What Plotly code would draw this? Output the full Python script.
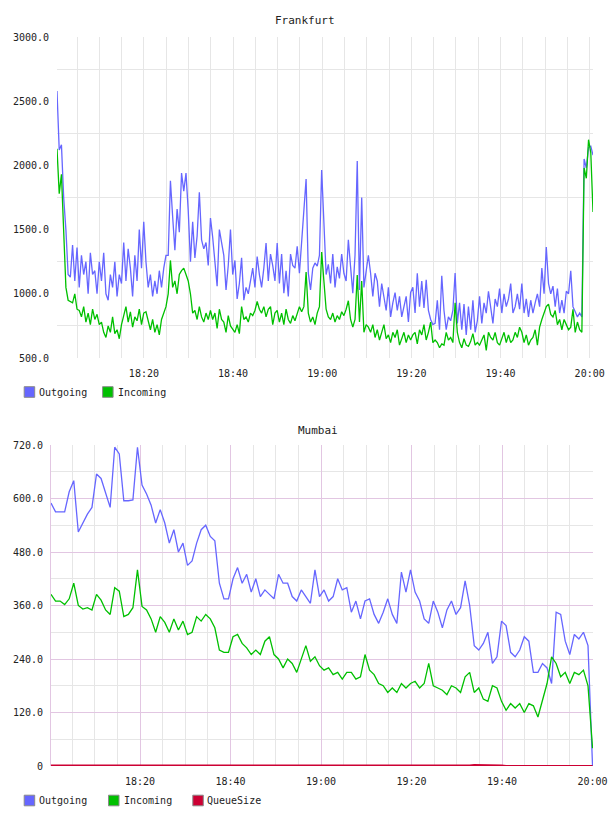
import pandas as pd
import plotly.graph_objects as go

# ---------------- Frankfurt data (30 s samples) ----------------
fra_start = "2024-01-01 18:00:30"
fra_end = "2024-01-01 20:00:45"
fra_out = [
    2580, 2120, 2160, 1750, 1500, 1150, 1130, 1380, 1100, 1360,
    1050, 1300, 1150, 1250, 1000, 1320, 1150, 1180, 1000, 1250,
    1100, 1320, 1000, 950, 1150, 1050, 1250, 980, 1150, 1080,
    1400, 1100, 1350, 1200, 980, 1300, 1100, 1500, 1200, 1560,
    1250, 1050, 1150, 980, 1100, 1000, 1180, 1050, 1200, 1300,
    1300, 1880, 1600, 1340, 1660, 1480, 1940, 1800, 1940, 1650,
    1250, 1560, 1280, 1450, 1790, 1420, 1350, 1400, 1220, 1590,
    1440, 1240, 1060, 1500, 1400, 1300, 1030, 1220, 1500, 1150,
    1260, 960, 1080, 1280, 950, 1050, 1000, 1100, 1200, 1050,
    1290, 1150, 1050, 1200, 1395, 1100, 1310, 1220, 1100, 1395,
    1080, 1310, 1005, 1180, 980, 1310, 1220, 1200, 1370, 1160,
    1395, 1600, 1894, 1160, 1030, 1200, 1240, 1215, 1300, 1964,
    1500, 1150, 1230, 1080, 1310, 1050, 1210, 1120, 1310, 1160,
    1100, 1420, 1210, 1005, 1300, 2034, 1030, 1750, 1050, 1200,
    1300, 1160, 980, 1160, 1100, 900, 1080, 975, 870, 1050,
    820, 930, 1010, 870, 980, 820, 900, 980, 780, 1010,
    1050, 850, 1160, 900, 1100, 890, 1110, 870, 800, 760,
    770, 950, 720, 1140, 870, 720, 820, 790, 870, 1162,
    770, 930, 720, 920, 680, 900, 720, 950, 700, 790,
    980, 770, 930, 850, 1020, 870, 770, 960, 900, 1040,
    850, 1000, 900, 960, 1080, 850, 900, 1000, 880, 1080,
    850, 960, 820, 950, 850, 930, 1000, 900, 1200, 1000,
    1365, 1080, 1000, 1060, 900, 1040, 850, 950, 850, 1020,
    1000, 1180, 900, 860, 820, 850, 820, 2050, 1980, 2140, 2150, 2080,
]
fra_in = [
    2130, 1780, 1930, 1450, 1050, 950, 940, 930, 1000, 880,
    870, 820, 900, 780, 850, 760, 880, 800, 840, 760,
    780, 700, 660, 750, 700, 820, 690, 720, 650, 760,
    830, 900, 780, 860, 740, 820, 790, 880, 760, 850,
    860, 780, 720, 800, 700, 760, 680, 800, 850, 900,
    1000, 1260, 1050, 1100, 1000, 1150, 1180, 1200, 1150, 1100,
    1000, 850, 870, 800, 900, 820, 780, 850, 800, 870,
    800, 850, 730, 880, 800, 780, 700, 830, 750, 720,
    700, 760, 690, 900, 800, 820, 780, 850, 830, 870,
    940, 880, 850, 900, 820, 880, 900, 760, 850, 870,
    780, 850, 760, 880, 800, 770, 830, 790, 850, 900,
    860, 900, 1170, 850, 780, 820, 760, 850, 900, 1325,
    1100, 880, 820, 800, 850, 780, 830, 800, 860, 830,
    880, 946, 800, 740, 800, 1146, 780, 1100, 700, 760,
    740, 700, 760, 660, 720, 640, 700, 760, 650, 680,
    620, 700, 660, 720, 600, 650, 700, 620, 680, 640,
    680, 700, 610, 720, 680, 760, 640, 700, 780, 620,
    640, 620, 580, 610, 600, 700, 640, 660, 620, 930,
    700, 620, 580, 650, 600, 590, 630, 690, 600, 620,
    600, 640, 680, 560, 700, 660, 640, 700, 620, 600,
    650, 700, 620, 680, 620, 640, 700, 660, 740, 700,
    620, 680, 600, 640, 660, 720, 600, 740, 800, 860,
    900, 920, 840, 820, 870, 760, 800, 720, 800, 760,
    720, 740, 880, 700, 780, 720, 700, 1980, 1900, 2200, 2100, 1637,
]
fra_ytick_vals = [500, 1000, 1500, 2000, 2500, 3000]
fra_ytick_text = ["500.0", "1000.0", "1500.0", "2000.0", "2500.0", "3000.0"]
fra_ygrid_vals = [750, 1250, 1750, 2250, 2750]
fra_legend = ["Outgoing", "Incoming"]

# ---------------- Mumbai data (1 min samples) ----------------
mum_start = "2024-01-01 18:00:20"
mum_end = "2024-01-01 20:00:00"
mum_out = [
    590, 570, 570, 570, 615, 640, 525, 545, 565, 580,
    655, 645, 610, 580, 715, 700, 595, 595, 597, 715,
    630, 610, 585, 545, 575, 545, 500, 530, 480, 500,
    450, 460, 500, 530, 540, 515, 505, 410, 375, 375,
    420, 445, 410, 430, 390, 420, 380, 395, 385, 375,
    430, 410, 410, 380, 370, 395, 380, 365, 440, 380,
    395, 370, 380, 420, 395, 400, 345, 370, 330, 370,
    375, 340, 320, 345, 375, 340, 320, 435, 390, 440,
    390, 370, 330, 320, 370, 345, 310, 350, 370, 340,
    355, 415, 360, 270, 260, 275, 300, 230, 245, 325,
    315, 255, 245, 260, 290, 280, 210, 210, 230, 220,
    185, 345, 340, 280, 250, 295, 285, 300, 270, 0,
]
mum_in = [
    385, 370, 370, 362, 375, 410, 360, 352, 355, 350,
    385, 372, 350, 340, 400, 392, 335, 340, 355, 440,
    358, 350, 330, 300, 335, 322, 300, 330, 305, 325,
    295, 300, 335, 325, 340, 330, 310, 260, 255, 255,
    290, 295, 275, 265, 250, 260, 250, 280, 290, 250,
    240, 220, 240, 230, 210, 240, 270, 235, 245, 225,
    215, 220, 205, 210, 195, 210, 210, 195, 200, 250,
    215, 205, 185, 180, 165, 175, 165, 185, 175, 185,
    190, 175, 185, 230, 180, 175, 170, 160, 180, 175,
    165, 200, 210, 165, 175, 150, 145, 180, 175, 145,
    125, 140, 130, 140, 120, 140, 135, 110, 150, 185,
    245, 230, 200, 210, 185, 210, 205, 215, 180, 40,
]
mum_queue = [
    1, 1, 1, 1, 1, 1, 1, 1, 1, 1,
    1, 1, 1, 1, 1, 1, 1, 1, 1, 1,
    1, 1, 1, 1, 1, 0, 0, 0, 0, 0,
    0, 0, 0, 0, 0, 0, 0, 0, 0, 0,
    0, 0, 0, 0, 0, 0, 0, 0, 0, 0,
    0, 0, 0, 0, 0, 0, 0, 0, 0, 0,
    0, 0, 0, 0, 0, 0, 0, 0, 0, 0,
    0, 0, 0, 0, 0, 0, 0, 0, 0, 0,
    0, 0, 0, 0, 0, 0, 0, 0, 0, 0,
    1, 1, 1, 2, 2, 2, 2, 2, 1, 1,
    0, 0, 0, 0, 0, 0, 0, 0, 0, 0,
    0, 0, 0, 0, 0, 0, 0, 0, 0, 0,
]
mum_ytick_vals = [0, 120, 240, 360, 480, 600, 720]
mum_ytick_text = ["0", "120.0", "240.0", "360.0", "480.0", "600.0", "720.0"]
mum_legend = ["Outgoing", "Incoming", "QueueSize"]

# ---------------- styling ----------------
W, H = 608, 816
C_OUT = "#6666ff"
C_IN = "#00c000"
C_Q = "#cc0033"
GRID = "#e6e6e6"
PINK = "#e2c6e2"
MONO = "DejaVu Sans Mono"
TXT = "#222222"

fra_t = pd.date_range(fra_start, fra_end, periods=len(fra_out))
mum_t = pd.date_range(mum_start, mum_end, periods=len(mum_out))

fig = go.Figure()

fig.add_trace(go.Scatter(x=fra_t, y=fra_out, mode="lines", name=fra_legend[0],
                         line=dict(color=C_OUT, width=1.3), xaxis="x", yaxis="y"))
fig.add_trace(go.Scatter(x=fra_t, y=fra_in, mode="lines", name=fra_legend[1],
                         line=dict(color=C_IN, width=1.3), xaxis="x", yaxis="y"))
fig.add_trace(go.Scatter(x=mum_t, y=mum_out, mode="lines", name=mum_legend[0],
                         line=dict(color=C_OUT, width=1.3), xaxis="x2", yaxis="y2"))
fig.add_trace(go.Scatter(x=mum_t, y=mum_in, mode="lines", name=mum_legend[1],
                         line=dict(color=C_IN, width=1.3), xaxis="x2", yaxis="y2"))
fig.add_trace(go.Scatter(x=mum_t, y=mum_queue, mode="lines", name=mum_legend[2],
                         line=dict(color=C_Q, width=2), xaxis="x2", yaxis="y2"))

tickfont = dict(family=MONO, size=10, color=TXT)


def xdom(a, b):
    return [a / W, b / W]


def ydom(top, bottom):
    return [1 - bottom / H, 1 - top / H]


# hand-placed legend rows (swatch square + label), positions in pixels
shapes = []
annotations = []


def legend_row(labels, colors, swatch_x, text_x, yc):
    for lab, col, sx, tx in zip(labels, colors, swatch_x, text_x):
        shapes.append(dict(type="rect", xref="paper", yref="paper",
                           x0=sx / W, x1=(sx + 10.5) / W,
                           y0=1 - (yc + 5.3) / H, y1=1 - (yc - 5.3) / H,
                           fillcolor=col, line=dict(color="#8a8a8a", width=1)))
        annotations.append(dict(text=lab, x=tx / W, y=1 - yc / H, xref="paper", yref="paper",
                                showarrow=False, xanchor="left", yanchor="middle",
                                borderpad=0, font=dict(family=MONO, size=10, color=TXT)))


legend_row(fra_legend, [C_OUT, C_IN], [24.2, 102.6], [37.5, 116.5], 392)
legend_row(mum_legend, [C_OUT, C_IN, C_Q], [24.2, 108.5, 192.8], [37.5, 122.5, 205.5], 800.5)

annotations.append(dict(text="Frankfurt", x=305 / W, y=1 - 20 / H, xref="paper", yref="paper",
                        showarrow=False, xanchor="center", yanchor="middle",
                        font=dict(family=MONO, size=11, color=TXT)))
annotations.append(dict(text="Mumbai", x=318 / W, y=1 - 430 / H, xref="paper", yref="paper",
                        showarrow=False, xanchor="center", yanchor="middle",
                        font=dict(family=MONO, size=11, color=TXT)))

fig.update_layout(
    width=W, height=H,
    margin=dict(l=0, r=0, t=0, b=0, autoexpand=False),
    paper_bgcolor="white", plot_bgcolor="white",
    showlegend=False,
    xaxis=dict(domain=xdom(57, 593), anchor="y", type="date", automargin=False,
               range=[fra_start, fra_end],
               tickformat="%H:%M", tick0="2024-01-01 18:00", dtick=1200000,
               showgrid=True, gridcolor=GRID, gridwidth=1,
               minor=dict(tick0="2024-01-01 18:00", dtick=300000,
                          showgrid=True, gridcolor=GRID, gridwidth=1),
               ticks="outside", ticklen=6, tickcolor="rgba(0,0,0,0)",
               showline=False, zeroline=False, tickfont=tickfont),
    yaxis=dict(domain=ydom(37, 358), anchor="x", range=[500, 3000], automargin=False,
               tickmode="array", tickvals=fra_ytick_vals, ticktext=fra_ytick_text,
               showgrid=False,
               minor=dict(tickmode="array", tickvals=fra_ygrid_vals,
                          showgrid=True, gridcolor=GRID, gridwidth=1),
               ticks="outside", ticklen=5, tickcolor="rgba(0,0,0,0)",
               showline=False, zeroline=False, tickfont=tickfont),
    xaxis2=dict(domain=xdom(51, 593), anchor="y2", type="date", automargin=False,
                range=[mum_start, "2024-01-01 20:00:06"],
                tickformat="%H:%M", tick0="2024-01-01 18:00", dtick=1200000,
                showgrid=True, gridcolor=PINK, gridwidth=1,
                minor=dict(tick0="2024-01-01 18:00", dtick=300000,
                           showgrid=True, gridcolor=GRID, gridwidth=1),
                ticks="outside", ticklen=6, tickcolor="rgba(0,0,0,0)",
                showline=False, zeroline=False, tickfont=tickfont),
    yaxis2=dict(domain=ydom(445, 766), anchor="x2", range=[0, 720], automargin=False,
                tickmode="array", tickvals=mum_ytick_vals, ticktext=mum_ytick_text,
                showgrid=True, gridcolor=PINK, gridwidth=1,
                minor=dict(tick0=60, dtick=120, showgrid=True, gridcolor=GRID, gridwidth=1),
                ticks="outside", ticklen=5, tickcolor="rgba(0,0,0,0)",
                showline=True, linecolor=PINK, linewidth=1,
                zeroline=False, tickfont=tickfont),
    shapes=shapes,
    annotations=annotations,
)

fig.write_html("out.html")
